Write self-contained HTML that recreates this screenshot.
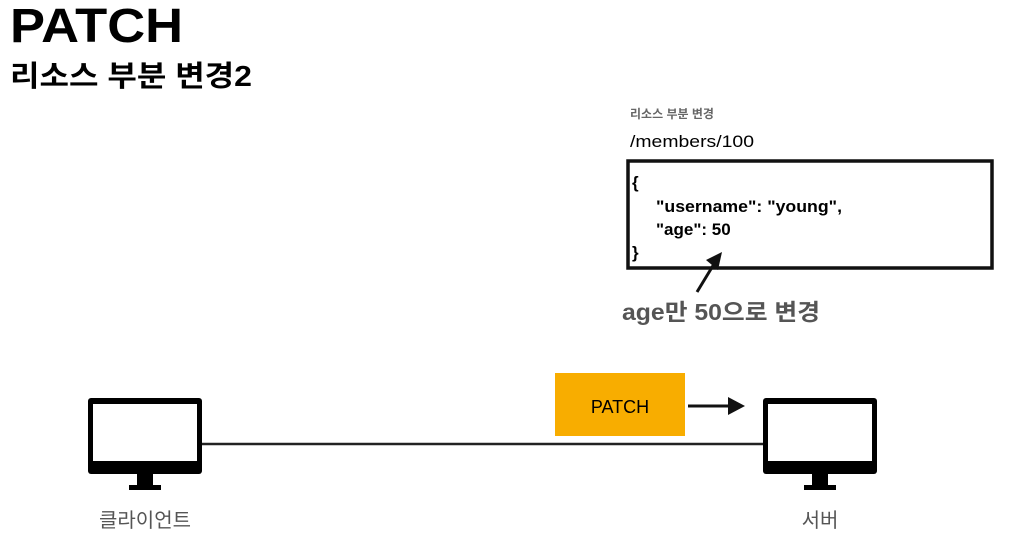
<!DOCTYPE html>
<html><head><meta charset="utf-8"><style>
body{margin:0;width:1025px;height:558px;background:#fff;overflow:hidden;font-family:"Liberation Sans","Noto Sans CJK KR",sans-serif}
</style></head><body>
<svg width="1025" height="558" xmlns="http://www.w3.org/2000/svg" style="position:absolute;left:0;top:0">
<g font-family="Liberation Sans, Noto Sans CJK KR, sans-serif">
<text x="10" y="42" font-size="48" font-weight="bold" fill="#000" textLength="173" lengthAdjust="spacingAndGlyphs">PATCH</text>
<text x="10" y="86" font-size="29" font-weight="bold" fill="#000" textLength="242" lengthAdjust="spacingAndGlyphs">리소스 부분 변경2</text>
<text x="630" y="118" font-size="12" font-weight="bold" fill="#666">리소스 부분 변경</text>
<text x="630" y="147" font-size="17" fill="#000" textLength="124" lengthAdjust="spacingAndGlyphs">/members/100</text>
<rect x="628" y="161" width="364" height="107" fill="none" stroke="#111" stroke-width="3.5"/>
<g font-size="17" font-weight="bold" fill="#000">
<text x="632" y="188">{</text>
<text x="656" y="212" textLength="186" lengthAdjust="spacingAndGlyphs">"username": "young",</text>
<text x="656" y="235">"age": 50</text>
<text x="632" y="258">}</text>
</g>
<line x1="697" y1="292" x2="714" y2="264" stroke="#111" stroke-width="3"/>
<polygon points="722,252 706,260 718,270" fill="#111"/>
<text x="622" y="320" font-size="23" font-weight="bold" fill="#555" textLength="198" lengthAdjust="spacingAndGlyphs">age만 50으로 변경</text>
<!-- client -->
<rect x="88" y="398" width="114" height="76" rx="3" fill="#000"/>
<rect x="93" y="404" width="104" height="57" fill="#fff"/>
<rect x="137" y="474" width="16" height="12" fill="#000"/>
<rect x="129" y="485" width="32" height="5" fill="#000"/>
<!-- server -->
<rect x="763" y="398" width="114" height="76" rx="3" fill="#000"/>
<rect x="768" y="404" width="104" height="57" fill="#fff"/>
<rect x="812" y="474" width="16" height="12" fill="#000"/>
<rect x="804" y="485" width="32" height="5" fill="#000"/>
<line x1="202" y1="444" x2="763" y2="444" stroke="#222" stroke-width="2.5"/>
<rect x="555" y="373" width="130" height="63" fill="#f8ad00"/>
<text x="620" y="413" font-size="18" fill="#000" text-anchor="middle">PATCH</text>
<line x1="688" y1="406" x2="732" y2="406" stroke="#111" stroke-width="3"/>
<polygon points="745,406 728,397 728,415" fill="#111"/>
<text x="145" y="527" font-size="20" fill="#555" text-anchor="middle">클라이언트</text>
<text x="820" y="527" font-size="20" fill="#555" text-anchor="middle">서버</text>
</g>
</svg>
</body></html>
